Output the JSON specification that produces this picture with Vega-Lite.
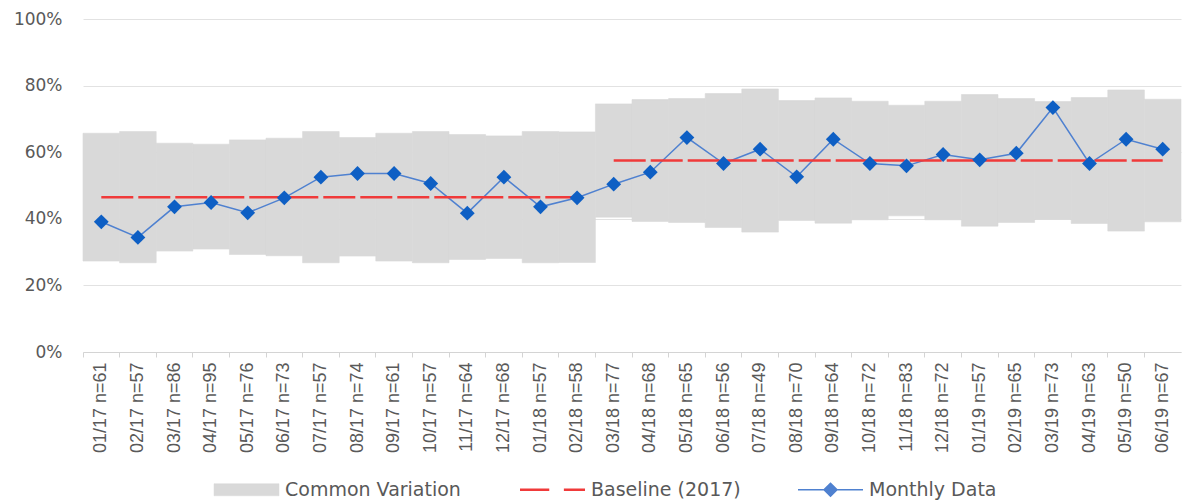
{
  "$schema": "https://vega.github.io/schema/vega-lite/v6.json",
  "width": 1098,
  "height": 333,
  "autosize": "none",
  "padding": {"left": 83, "top": 19, "right": 2, "bottom": 148},
  "config": {"view": {"stroke": null}, "font": "DejaVu Sans"},
  "data": {"values": [
    {"label": "01/17 n=61", "value": 39.1, "lower": 27.3, "upper": 65.7, "baseline": 46.5, "period": "A"},
    {"label": "02/17 n=57", "value": 34.4, "lower": 26.8, "upper": 66.2, "baseline": 46.5, "period": "A"},
    {"label": "03/17 n=86", "value": 43.6, "lower": 30.3, "upper": 62.7, "baseline": 46.5, "period": "A"},
    {"label": "04/17 n=95", "value": 44.9, "lower": 30.9, "upper": 62.4, "baseline": 46.5, "period": "A"},
    {"label": "05/17 n=76", "value": 41.8, "lower": 29.3, "upper": 63.7, "baseline": 46.5, "period": "A"},
    {"label": "06/17 n=73", "value": 46.3, "lower": 28.9, "upper": 64.2, "baseline": 46.5, "period": "A"},
    {"label": "07/17 n=57", "value": 52.5, "lower": 26.8, "upper": 66.2, "baseline": 46.5, "period": "A"},
    {"label": "08/17 n=74", "value": 53.6, "lower": 28.8, "upper": 64.4, "baseline": 46.5, "period": "A"},
    {"label": "09/17 n=61", "value": 53.6, "lower": 27.3, "upper": 65.7, "baseline": 46.5, "period": "A"},
    {"label": "10/17 n=57", "value": 50.6, "lower": 26.8, "upper": 66.2, "baseline": 46.5, "period": "A"},
    {"label": "11/17 n=64", "value": 41.7, "lower": 27.8, "upper": 65.3, "baseline": 46.5, "period": "A"},
    {"label": "12/17 n=68", "value": 52.5, "lower": 28.1, "upper": 64.9, "baseline": 46.5, "period": "A"},
    {"label": "01/18 n=57", "value": 43.6, "lower": 26.8, "upper": 66.2, "baseline": 46.5, "period": "A"},
    {"label": "02/18 n=58", "value": 46.3, "lower": 26.9, "upper": 66.1, "baseline": 46.5, "period": "A"},
    {"label": "03/18 n=77", "value": 50.4, "lower": 40.5, "upper": 74.5, "baseline": 57.5, "period": "B"},
    {"label": "04/18 n=68", "value": 54.0, "lower": 39.2, "upper": 75.8, "baseline": 57.5, "period": "B"},
    {"label": "05/18 n=65", "value": 64.4, "lower": 38.9, "upper": 76.1, "baseline": 57.5, "period": "B"},
    {"label": "06/18 n=56", "value": 56.6, "lower": 37.4, "upper": 77.6, "baseline": 57.5, "period": "B"},
    {"label": "07/18 n=49", "value": 60.9, "lower": 36.0, "upper": 79.0, "baseline": 57.5, "period": "B"},
    {"label": "08/18 n=70", "value": 52.6, "lower": 39.5, "upper": 75.5, "baseline": 57.5, "period": "B"},
    {"label": "09/18 n=64", "value": 63.9, "lower": 38.7, "upper": 76.3, "baseline": 57.5, "period": "B"},
    {"label": "10/18 n=72", "value": 56.6, "lower": 39.7, "upper": 75.3, "baseline": 57.5, "period": "B"},
    {"label": "11/18 n=83", "value": 55.9, "lower": 40.9, "upper": 74.1, "baseline": 57.5, "period": "B"},
    {"label": "12/18 n=72", "value": 59.3, "lower": 39.7, "upper": 75.3, "baseline": 57.5, "period": "B"},
    {"label": "01/19 n=57", "value": 57.7, "lower": 37.8, "upper": 77.3, "baseline": 57.5, "period": "B"},
    {"label": "02/19 n=65", "value": 59.7, "lower": 38.9, "upper": 76.1, "baseline": 57.5, "period": "B"},
    {"label": "03/19 n=73", "value": 73.4, "lower": 39.8, "upper": 75.2, "baseline": 57.5, "period": "B"},
    {"label": "04/19 n=63", "value": 56.6, "lower": 38.6, "upper": 76.4, "baseline": 57.5, "period": "B"},
    {"label": "05/19 n=50", "value": 63.9, "lower": 36.3, "upper": 78.7, "baseline": 57.5, "period": "B"},
    {"label": "06/19 n=67", "value": 60.9, "lower": 39.1, "upper": 75.9, "baseline": 57.5, "period": "B"}
  ]},
  "encoding": {
    "x": {
      "field": "label", "type": "nominal", "sort": null, "title": null,
      "scale": {"paddingInner": 0, "paddingOuter": 0},
      "axis": {
        "labelAngle": -90, "labelFont": "Liberation Sans", "labelFontSize": 18,
        "labelColor": "#595959", "bandPosition": 0,
        "tickSize": 5, "tickColor": "#d4d4d4", "domainColor": "#d4d4d4",
        "labelPadding": 5, "grid": false
      }
    }
  },
  "layer": [
    {
      "mark": {"type": "bar", "stroke": "#d9d9d9", "strokeWidth": 0.6},
      "encoding": {
        "y": {
          "field": "lower", "type": "quantitative", "title": null,
          "scale": {"domain": [0, 100]},
          "axis": {
            "values": [0, 20, 40, 60, 80, 100], "labelExpr": "datum.value + '%'",
            "domain": false, "ticks": false, "gridColor": "#e2e2e2",
            "labelFont": "DejaVu Sans", "labelFontSize": 17, "labelColor": "#595959",
            "labelPadding": 21
          }
        },
        "y2": {"field": "upper"},
        "color": {
          "datum": "Common Variation", "type": "nominal",
          "scale": {
            "domain": ["Common Variation", "Baseline (2017)", "Monthly Data"],
            "range": ["#d9d9d9", "#f03a3a", "#4f81d0"]
          },
          "legend": {
            "orient": "none", "legendX": 154, "legendY": 461, "padding": 0,
            "direction": "horizontal", "title": null,
            "labelFont": "DejaVu Sans", "labelFontSize": 19, "labelColor": "#595959",
            "labelLimit": 400,
            "symbolSize": 4225, "labelOffset": 29, "columnPadding": 54,
            "encoding": {
              "symbols": {
                "shape": {"value": {"expr": "datum.label == 'Common Variation' ? 'M-1,-0.185H1V0.185H-1Z' : datum.label == 'Baseline (2017)' ? 'M-1,0H-0.1M0.35,0H1' : 'M-1,0H1M0,-0.2L0.2,0L0,0.2L-0.2,0Z'"}},
                "fill": {"value": {"expr": "datum.label == 'Common Variation' ? '#d9d9d9' : datum.label == 'Baseline (2017)' ? 'transparent' : '#1a64c6'"}},
                "stroke": {"value": {"expr": "datum.label == 'Common Variation' ? '#d9d9d9' : datum.label == 'Baseline (2017)' ? '#f03a3a' : '#3f76cc'"}},
                "strokeWidth": {"value": {"expr": "datum.label == 'Common Variation' ? 0.5 : datum.label == 'Baseline (2017)' ? 2.5 : 1.5"}},
                "opacity": {"value": 1}
              }
            }
          }
        }
      }
    },
    {
      "mark": {"type": "line", "strokeWidth": 1.5},
      "encoding": {
        "y": {"field": "value", "type": "quantitative"},
        "color": {"datum": "Monthly Data", "type": "nominal"}
      }
    },
    {
      "mark": {"type": "line", "strokeWidth": 2.5, "strokeDash": [32, 5]},
      "encoding": {
        "y": {"field": "baseline", "type": "quantitative"},
        "detail": {"field": "period"},
        "color": {"datum": "Baseline (2017)", "type": "nominal"}
      }
    },
    {
      "mark": {"type": "point", "shape": "diamond", "filled": true, "size": 220, "color": "#0e5fc4", "opacity": 1},
      "encoding": {
        "y": {"field": "value", "type": "quantitative"}
      }
    }
  ]
}
